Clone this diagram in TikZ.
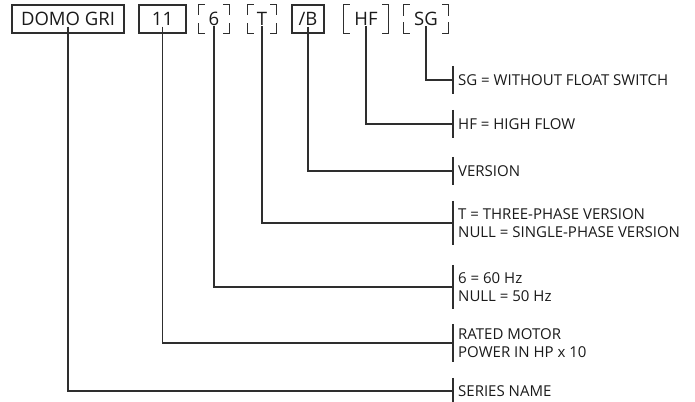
\documentclass[tikz,border=0pt]{standalone}
\usepackage{fontspec}
\setmainfont{Open Sans}
\usetikzlibrary{calc}
\definecolor{ink}{HTML}{1A1A1A}
\definecolor{linec}{HTML}{2E2E2E}
\newcommand\cornermarks[3]{%
  \draw[conn] ($(#1.north west)+(0,#3)$) -- (#1.north west) -- +(#2,0);
  \draw[conn] ($(#1.north east)+(0,#3)$) -- (#1.north east) -- +(-#2,0);
  \draw[conn] ($(#1.south west)+(0,-#3)$) -- (#1.south west) -- +(#2,0);
  \draw[conn] ($(#1.south east)+(0,-#3)$) -- (#1.south east) -- +(-#2,0);
}
\begin{document}
\begin{tikzpicture}[x=1pt,y=-1pt,
  conn/.style={draw=linec,line width=1.3pt},
  codebox/.style={minimum height=28pt,inner sep=0pt,font=\fontsize{18.5}{22}\selectfont,text=ink},
  solidbox/.style={codebox,draw=linec,line width=1.3pt},
  lbl/.style={anchor=west,inner xsep=5pt,inner ysep=0pt,align=left,text=ink,font=\fontsize{15}{18}\selectfont},
  one/.style={lbl,minimum height=28pt},
  two/.style={lbl,minimum height=44pt}]
\useasboundingbox (0,0) rectangle (695,401);
% code boxes
\node[solidbox,minimum width=112pt] (domo) at (68,19) {DOMO GRI};
\node[solidbox,minimum width=47pt] (power) at (162.5,19) {11};
\node[codebox,minimum width=30pt] (hz) at (214,19) {6};
\node[codebox,minimum width=28pt] (phase) at (262,19) {T};
\node[solidbox,minimum width=32pt] (ver) at (308,19) {/B};
\node[codebox,minimum width=44pt] (hf) at (366,19) {HF};
\node[codebox,minimum width=44pt] (sg) at (426,19) {SG};
\cornermarks{hz}{6}{10}
\cornermarks{phase}{6}{10}
\cornermarks{hf}{6}{14}
\cornermarks{sg}{6}{11}
% labels
\node[one] (lsg) at (453,80) {SG = WITHOUT FLOAT SWITCH};
\node[one] (lhf) at (453,124) {HF = HIGH FLOW};
\node[one] (lver) at (453,171) {VERSION};
\node[two] (lphase) at (453,223) {T = THREE-PHASE VERSION\\NULL = SINGLE-PHASE VERSION};
\node[two] (lhz) at (453,287) {6 = 60 Hz\\NULL = 50 Hz};
\node[two,minimum height=38pt] (lpow) at (453,343) {RATED MOTOR\\POWER IN HP x 10};
\node[one,minimum height=26pt] (ldomo) at (453,391) {SERIES NAME};
\foreach \l in {lsg,lhf,lver,lphase,lhz,lpow,ldomo}
  \draw[conn] (\l.north west) -- (\l.south west);
% connectors
\draw[conn] ([yshift=7pt]sg.south) |- (lsg.west);
\draw[conn] ([yshift=7pt]hf.south) |- (lhf.west);
\draw[conn] ([yshift=7pt]ver.south) |- (lver.west);
\draw[conn] ([yshift=7pt]phase.south) |- (lphase.west);
\draw[conn] ([yshift=7pt]hz.south) |- (lhz.west);
\draw[conn] ([yshift=7pt]power.south) |- (lpow.west);
\draw[conn] ([yshift=7pt]domo.south) |- (ldomo.west);
\end{tikzpicture}
\end{document}
